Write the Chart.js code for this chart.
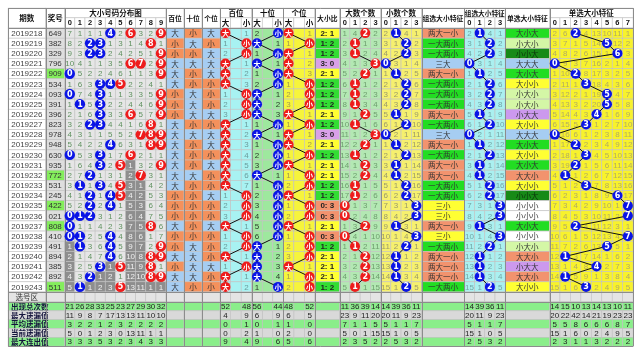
<!DOCTYPE html>
<html>
<head>
<meta charset="utf-8">
<script src="https://cdn.jsdelivr.net/npm/chart.js@4.4.0/dist/chart.umd.min.js"></script>
<style>html,body{margin:0;padding:0;background:#fff}</style>
</head>
<body>
<canvas id="c" width="640" height="364"></canvas>
<script>
// periods and drawn numbers
var periods = ['2019218','2019219','2019220','2019221','2019222','2019223','2019224','2019225','2019226','2019227','2019228','2019229','2019230','2019231','2019232','2019233','2019234','2019235','2019236','2019237','2019238','2019239','2019240','2019241','2019242','2019243'];
var draws = ['649','382','329','796','909','534','093','391','396','823','978','948','630','935','772','531','245','422','021','808','410','491','894','385','892','511'];
var pairDraws = ['2019222','2019232','2019235','2019237','2019243'];

// omission table of digits 0-9 (0 = drawn)
var distMiss = [
 [7,1,1,1,0,2,0,3,2,0],[8,2,0,0,1,3,1,4,0,1],[9,3,0,0,2,4,2,5,1,0],[10,4,1,1,3,5,0,0,2,0],
 [0,5,2,2,4,6,1,1,3,0],[1,6,3,0,0,0,2,2,4,1],[0,7,4,0,1,1,3,3,5,0],[1,0,5,0,2,2,4,4,6,0],
 [2,1,6,0,3,3,0,5,7,0],[3,2,0,0,4,4,1,6,0,1],[4,3,1,1,5,5,2,0,0,0],[5,4,2,2,0,6,3,1,0,0],
 [0,5,3,0,1,7,0,2,1,1],[1,6,4,0,2,0,1,3,2,0],[2,7,0,1,3,1,2,0,3,1],[3,0,1,0,4,0,3,1,4,2],
 [4,1,0,1,0,0,4,2,5,3],[5,2,0,2,0,1,5,3,6,4],[0,0,0,3,1,2,6,4,7,5],[0,1,1,4,2,3,7,5,0,6],
 [0,0,2,5,0,4,8,6,1,7],[1,0,3,6,0,5,9,7,2,0],[2,1,4,7,0,6,10,8,0,0],[3,2,5,0,1,0,11,9,0,1],
 [4,3,0,1,2,1,12,10,0,0],[5,0,1,2,3,0,13,11,1,1]
];
// first row of the current (grey) omission run per digit
var distTailFrom = [21,26,25,24,23,26,13,15,25,25];

// size of hundreds / tens / units
var baiSize = '大小小大大大小小小大大大大大大大小小小大小小大小大大';
var shiSize = '小大小大小小大大大小大小小小大小小小小小小大大大大小';
var geSize  = '大小大大大小小小大小大大小大小小大小小大小小小大小小';
// omission of the column that was not hit
var baiMiss = [1,1,2,1,2,3,1,2,3,1,2,3,4,5,6,7,1,2,3,1,1,2,1,1,1,2];
var shiMiss = [2,1,1,1,1,2,1,2,3,1,1,1,2,3,1,1,2,3,4,5,6,1,2,3,4,1];
var geMiss  = [1,1,1,2,3,1,2,3,1,1,1,2,1,1,1,2,1,1,2,1,1,2,3,1,1,2];

// big digit count 0-3
var bigCount = [2,1,1,3,2,1,1,1,2,1,3,2,1,2,2,1,1,0,0,2,0,1,2,2,2,1];
var bigMiss = [
 [1,4,0,2],[2,0,1,3],[3,0,2,4],[4,1,3,0],[5,2,0,1],[6,0,1,2],[7,0,2,3],[8,0,3,4],[9,1,0,5],
 [10,0,1,6],[11,1,2,0],[12,2,0,1],[13,0,1,2],[14,1,0,3],[15,2,0,4],[16,0,1,5],[17,0,2,6],
 [0,1,3,7],[0,2,4,8],[1,3,0,9],[0,4,1,10],[1,0,2,11],[2,1,0,12],[3,2,0,13],[4,3,0,14],[5,0,1,15]
];
// small digit count 0-3 (also the group feature index)
var smallCount = [1,2,2,0,1,2,2,2,1,2,0,1,2,1,1,2,2,3,3,1,3,2,1,1,1,2];
var smallMiss = [
 [2,0,4,1],[3,1,0,2],[4,2,0,3],[0,3,1,4],[1,0,2,5],[2,1,0,6],[3,2,0,7],[4,3,0,8],[5,0,1,9],
 [6,1,0,10],[0,2,1,11],[1,0,2,12],[2,1,0,13],[3,0,1,14],[4,0,2,15],[5,1,0,16],[6,2,0,17],
 [7,3,1,0],[8,4,2,0],[9,0,3,1],[10,1,4,0],[11,2,0,1],[12,0,1,2],[13,0,2,3],[14,0,3,4],[15,1,0,5]
];
var ratioNames = ['0: 3','1: 2','2: 1','3: 0'];
var groupNames = ['三大','两大一小','一大两小','三小'];

// single feature 0-7
var singleNames = ['大大大','大大小','大小大','大小小','小大大','小大小','小小大','小小小'];
var singleIdx = [2,5,6,0,2,3,5,5,4,3,0,2,3,2,1,3,6,7,7,2,7,5,1,4,1,3];
var singleMiss = [
 [2,6,0,4,13,10,11,1],[3,7,1,5,14,0,12,2],[4,8,2,6,15,1,0,3],[0,9,3,7,16,2,1,4],
 [1,10,0,8,17,3,2,5],[2,11,1,0,18,4,3,6],[3,12,2,1,19,0,4,7],[4,13,3,2,20,0,5,8],
 [5,14,4,3,0,1,6,9],[6,15,5,0,1,2,7,10],[0,16,6,1,2,3,8,11],[1,17,0,2,3,4,9,12],
 [2,18,1,0,4,5,10,13],[3,19,0,1,5,6,11,14],[4,0,1,2,6,7,12,15],[5,1,2,0,7,8,13,16],
 [6,2,3,1,8,9,0,17],[7,3,4,2,9,10,1,0],[8,4,5,3,10,11,2,0],[9,5,0,4,11,12,3,1],
 [10,6,1,5,12,13,4,0],[11,7,2,6,13,0,5,1],[12,0,3,7,14,1,6,2],[13,1,4,8,0,2,7,3],
 [14,0,5,9,1,3,8,4],[15,1,6,0,2,4,9,5]
];

// bottom statistics
var statNames = ['出现总次数','最大遗漏值','平均遗漏值','当前遗漏值','最大连出值'];
var distStats = [[21,26,28,33,25,23,27,29,30,32],[11,9,8,7,17,13,13,11,10,10],[3,2,2,1,2,3,2,2,2,2],[5,0,1,2,3,0,13,11,1,1],[3,3,3,5,3,2,3,4,3,3]];
var trendStats = [[52,48,56,44,48,52],[4,9,6,9,6,5],[0,1,0,1,1,0],[0,2,1,0,2,0],[9,4,9,6,5,6]];
var bigStats = [[11,36,39,14],[23,9,11,20],[7,1,1,5],[5,0,1,15],[2,3,5,2]];
var smallStats = [[14,39,36,11],[20,11,9,23],[5,1,1,7],[15,1,0,5],[2,5,3,2]];
var singleStats = [[14,15,10,13,14,13,10,11],[20,22,42,14,21,19,23,23],[5,5,8,6,6,6,8,7],[15,1,6,0,2,4,9,5],[2,3,1,1,3,2,2,2]];

// layout (px units of the scales)
var L = {qs:[3,41], jh:[41,60.5], distX:60.5, distW:10.3, posX:163.5, posW:18.33,
  trendX:218.5, trendW:32.1, ratio:[314.8,340], bigX:340, cntW:10.4, smallX:381.6,
  grpLab:[423.2,466.7], grpX:466.7, sglLab:[508.3,553.3], sglX:553.3, sglW:10.625, right:638.3,
  top:3, h1:13, h2:23.5, rowH:10.45, selTop:295.2, selBot:304.8, statTop:305.5, statH:9.1};
var CJK = '"Noto Sans CJK SC"';
var BLUE = '#0a14e6', RED = '#ee1c1c';
var ratioColors = ['#f2936e','#33dd33','#ffff33','#d9a0e8'];
var groupColors = ['#a6cdf2','#f2936e','#22dd22','#ffff33'];
var singleColors = ['#a6cdf2','#f2936e','#22dd22','#ffff33','#cc99ee','#d4f7a6','#178a17','#ffffff'];

function rowY(i) { return L.h2 + (i + 0.5) * L.rowH; }
function rowTop(i) { return L.h2 + i * L.rowH; }
function distC(d) { return L.distX + (d + 0.5) * L.distW; }
function trendC(p, big) { return L.trendX + p * L.trendW + (big ? 0.5 : 2.5) * L.trendW / 3; }

// table cells, texts and grid
var tablePlugin = {
  id: 'table',
  beforeDatasetsDraw: function(chart) {
    var ctx = chart.ctx, xs = chart.scales.x, ys = chart.scales.y;
    function cell(x0, y0, x1, y1, fill, txt, color, font) {
      var a = xs.getPixelForValue(x0), b = ys.getPixelForValue(y0);
      var c = xs.getPixelForValue(x1), d = ys.getPixelForValue(y1);
      ctx.fillStyle = fill;
      ctx.fillRect(a, b, c - a, d - b);
      ctx.strokeStyle = '#c2c2c2';
      ctx.lineWidth = 0.6;
      ctx.strokeRect(a, b, c - a, d - b);
      if (txt !== undefined && txt !== '') {
        ctx.fillStyle = color || '#222';
        ctx.font = font || '8px "Liberation Sans"';
        ctx.textAlign = 'center';
        ctx.textBaseline = 'middle';
        ctx.fillText(txt, (a + c) / 2, (b + d) / 2 + 0.5, c - a - 1);
      }
    }
    var hf = 'bold 7.5px ' + CJK, hs = 'bold 6.8px ' + CJK, hd = 'bold 7.5px "Liberation Sans"';
    var i, d, p, k, y0, y1;

    // header
    cell(L.qs[0], L.top, L.qs[1], L.h2, '#fff', '期数', '#111', hf);
    cell(L.jh[0], L.top, L.jh[1], L.h2, '#fff', '奖号', '#111', hf);
    cell(L.distX, L.top, L.distX + 10 * L.distW, L.h1, '#fff', '大小号码分布图', '#111', hf);
    for (d = 0; d < 10; d++) cell(L.distX + d * L.distW, L.h1, L.distX + (d + 1) * L.distW, L.h2, '#fff', String(d), '#111', hd);
    ['百位','十位','个位'].forEach(function(t, p) {
      cell(L.posX + p * L.posW, L.top, L.posX + (p + 1) * L.posW, L.h2, '#fff', t, '#111', hs);
      var x = L.trendX + p * L.trendW, s = L.trendW / 3;
      cell(x, L.top, x + L.trendW, L.h1, '#fff', t, '#111', hf);
      cell(x, L.h1, x + s, L.h2, '#fff', '大', '#111', hf);
      cell(x + s, L.h1, x + 2 * s, L.h2, '#fff', '');
      cell(x + 2 * s, L.h1, x + 3 * s, L.h2, '#fff', '小', '#111', hf);
    });
    cell(L.ratio[0], L.top, L.ratio[1], L.h2, '#fff', '大小比', '#111', hs);
    cell(L.bigX, L.top, L.bigX + 4 * L.cntW, L.h1, '#fff', '大数个数', '#111', hf);
    cell(L.smallX, L.top, L.smallX + 4 * L.cntW, L.h1, '#fff', '小数个数', '#111', hf);
    cell(L.grpLab[0], L.top, L.grpLab[1], L.h2, '#fff', '组选大小特征', '#111', hs);
    cell(L.grpX, L.top, L.grpX + 4 * L.cntW, L.h1, '#fff', '组选大小特征', '#111', hs);
    for (k = 0; k < 4; k++) {
      cell(L.bigX + k * L.cntW, L.h1, L.bigX + (k + 1) * L.cntW, L.h2, '#fff', String(k), '#111', hd);
      cell(L.smallX + k * L.cntW, L.h1, L.smallX + (k + 1) * L.cntW, L.h2, '#fff', String(k), '#111', hd);
      cell(L.grpX + k * L.cntW, L.h1, L.grpX + (k + 1) * L.cntW, L.h2, '#fff', String(k), '#111', hd);
    }
    cell(L.sglLab[0], L.top, L.sglLab[1], L.h2, '#fff', '单选大小特征', '#111', hs);
    cell(L.sglX, L.top, L.sglX + 8 * L.sglW, L.h1, '#fff', '单选大小特征', '#111', hf);
    for (k = 0; k < 8; k++) cell(L.sglX + k * L.sglW, L.h1, L.sglX + (k + 1) * L.sglW, L.h2, '#fff', String(k), '#111', hd);

    // data rows
    var nf = '8px "Liberation Sans"', cf = '7.5px ' + CJK;
    var sizes = [baiSize, shiSize, geSize], misses = [baiMiss, shiMiss, geMiss];
    var trendBg = ['#a8f2f2', '#9ee89e', '#f6f43c'], trendTx = ['#6b9c9c', '#2a3a2a', '#a09a50'];
    for (i = 0; i < periods.length; i++) {
      y0 = rowTop(i); y1 = y0 + L.rowH;
      cell(L.qs[0], y0, L.qs[1], y1, '#fff', periods[i], '#444', nf);
      cell(L.jh[0], y0, L.jh[1], y1, pairDraws.indexOf(periods[i]) >= 0 ? '#84ee5c' : '#dedede', draws[i], '#333', nf);
      for (d = 0; d < 10; d++) {
        var tail = i >= distTailFrom[d];
        var m = distMiss[i][d];
        cell(L.distX + d * L.distW, y0, L.distX + (d + 1) * L.distW, y1, tail ? '#8e8e8e' : '#e6e6e6',
          m ? String(m) : '', tail ? '#f0f0f0' : '#5f915f', nf);
      }
      for (p = 0; p < 3; p++) {
        var big = sizes[p][i] === '大';
        cell(L.posX + p * L.posW, y0, L.posX + (p + 1) * L.posW, y1, big ? '#a6cdf2' : '#f4915c', sizes[p][i], '#333', cf);
        var x = L.trendX + p * L.trendW, s = L.trendW / 3;
        cell(x, y0, x + s, y1, trendBg[p], big ? '' : String(misses[p][i]), trendTx[p], nf);
        cell(x + s, y0, x + 2 * s, y1, trendBg[p], '');
        cell(x + 2 * s, y0, x + 3 * s, y1, trendBg[p], big ? String(misses[p][i]) : '', trendTx[p], nf);
      }
      cell(L.ratio[0], y0, L.ratio[1], y1, ratioColors[bigCount[i]], ratioNames[bigCount[i]], '#222', 'bold 8px "Liberation Sans"');
      for (k = 0; k < 4; k++) {
        var bm = bigMiss[i][k], sm = smallMiss[i][k];
        cell(L.bigX + k * L.cntW, y0, L.bigX + (k + 1) * L.cntW, y1, '#b3e8b3', bm ? String(bm) : '', '#6e9e6e', nf);
        cell(L.smallX + k * L.cntW, y0, L.smallX + (k + 1) * L.cntW, y1, '#f6f06e', sm ? String(sm) : '', '#9a9a6a', nf);
        cell(L.grpX + k * L.cntW, y0, L.grpX + (k + 1) * L.cntW, y1, '#aaf0f0', sm ? String(sm) : '', '#74a6a6', nf);
      }
      cell(L.grpLab[0], y0, L.grpLab[1], y1, groupColors[smallCount[i]], groupNames[smallCount[i]], '#333', cf);
      cell(L.sglLab[0], y0, L.sglLab[1], y1, singleColors[singleIdx[i]], singleNames[singleIdx[i]], singleIdx[i] === 6 ? '#0b300b' : '#333', cf);
      for (k = 0; k < 8; k++) {
        var gm = singleMiss[i][k];
        cell(L.sglX + k * L.sglW, y0, L.sglX + (k + 1) * L.sglW, y1, '#f8f22c', gm ? String(gm) : '', '#b2ac62', nf);
      }
    }

    // selection row
    y0 = L.selTop; y1 = L.selBot;
    cell(L.qs[0], y0, L.qs[1], y1, '#e4e4e4', '选号区', '#333', cf);
    cell(L.jh[0], y0, L.jh[1], y1, '#e4e4e4', '');
    var cols = [];
    for (d = 0; d < 10; d++) cols.push([L.distX + d * L.distW, L.distW]);
    for (p = 0; p < 3; p++) cols.push([L.posX + p * L.posW, L.posW]);
    for (p = 0; p < 9; p++) cols.push([L.trendX + p * L.trendW / 3, L.trendW / 3]);
    cols.push([L.ratio[0], L.ratio[1] - L.ratio[0]]);
    for (k = 0; k < 8; k++) cols.push([L.bigX + k * L.cntW, L.cntW]);
    cols.push([L.grpLab[0], L.grpLab[1] - L.grpLab[0]]);
    for (k = 0; k < 4; k++) cols.push([L.grpX + k * L.cntW, L.cntW]);
    cols.push([L.sglLab[0], L.sglLab[1] - L.sglLab[0]]);
    for (k = 0; k < 8; k++) cols.push([L.sglX + k * L.sglW, L.sglW]);
    cols.forEach(function(c) { cell(c[0], y0, c[0] + c[1], y1, '#e4e4e4', ''); });

    // statistics rows
    for (var r = 0; r < 5; r++) {
      y0 = L.statTop + r * L.statH; y1 = y0 + L.statH;
      var bg = r % 2 === 0 ? '#8aee8a' : '#d9d9d9';
      cols.forEach(function(c) { cell(c[0], y0, c[0] + c[1], y1, bg, ''); });
      cell(L.qs[0], y0, L.jh[1], y1, bg, '', '#14143c');
      ctx.fillStyle = '#14143c';
      ctx.font = 'bold 7.5px ' + CJK;
      ctx.textAlign = 'left';
      ctx.textBaseline = 'middle';
      ctx.fillText(statNames[r], xs.getPixelForValue(L.qs[0] + 3), ys.getPixelForValue((y0 + y1) / 2) + 0.5);
      for (d = 0; d < 10; d++) cell(L.distX + d * L.distW, y0, L.distX + (d + 1) * L.distW, y1, bg, String(distStats[r][d]), '#222', nf);
      for (p = 0; p < 3; p++) {
        var x = L.trendX + p * L.trendW, s = L.trendW / 3;
        cell(x, y0, x + s, y1, bg, String(trendStats[r][p * 2]), '#222', nf);
        cell(x + 2 * s, y0, x + 3 * s, y1, bg, String(trendStats[r][p * 2 + 1]), '#222', nf);
      }
      for (k = 0; k < 4; k++) {
        cell(L.bigX + k * L.cntW, y0, L.bigX + (k + 1) * L.cntW, y1, bg, String(bigStats[r][k]), '#222', nf);
        cell(L.smallX + k * L.cntW, y0, L.smallX + (k + 1) * L.cntW, y1, bg, String(smallStats[r][k]), '#222', nf);
        cell(L.grpX + k * L.cntW, y0, L.grpX + (k + 1) * L.cntW, y1, bg, String(smallStats[r][k]), '#222', nf);
      }
      for (k = 0; k < 8; k++) cell(L.sglX + k * L.sglW, y0, L.sglX + (k + 1) * L.sglW, y1, bg, String(singleStats[r][k]), '#222', nf);
    }

    // section borders
    var edges = [L.qs[0], L.jh[0], L.distX, L.posX, L.posX + L.posW, L.posX + 2 * L.posW, L.trendX,
      L.trendX + L.trendW, L.trendX + 2 * L.trendW, L.ratio[0], L.bigX, L.smallX, L.grpLab[0], L.grpX, L.sglLab[0], L.sglX, L.right];
    ctx.strokeStyle = '#8c8c8c';
    ctx.lineWidth = 1;
    ctx.beginPath();
    edges.forEach(function(e) {
      var px = Math.round(xs.getPixelForValue(e)) + 0.5;
      ctx.moveTo(px, ys.getPixelForValue(L.top));
      ctx.lineTo(px, ys.getPixelForValue(L.statTop + 5 * L.statH));
    });
    [L.top, L.h2, L.selTop, L.statTop, L.statTop + 5 * L.statH].forEach(function(e) {
      var py = Math.round(ys.getPixelForValue(e)) + 0.5;
      ctx.moveTo(xs.getPixelForValue(L.qs[0]), py);
      ctx.lineTo(xs.getPixelForValue(L.right), py);
    });
    ctx.stroke();
  },
  afterDatasetsDraw: function(chart) {
    var ctx = chart.ctx;
    chart.data.datasets.forEach(function(ds, k) {
      var meta = chart.getDatasetMeta(k);
      ctx.fillStyle = '#fff';
      ctx.textAlign = 'center';
      ctx.textBaseline = 'middle';
      ctx.font = ds.cjk ? 'bold 7px ' + CJK : 'bold 8px "DejaVu Sans"';
      meta.data.forEach(function(pt, j) {
        ctx.fillText(ds.labels[j], pt.x, pt.y + 0.5);
      });
    });
  }
};

// datasets
var distPts = [], distCols = [], distLabels = [];
distMiss.forEach(function(row, i) {
  row.forEach(function(m, d) {
    if (m === 0) {
      distPts.push({x: distC(d), y: rowY(i)});
      distCols.push(d < 5 ? BLUE : RED);
      distLabels.push(String(d));
    }
  });
});

function trendSet(str, p, color) {
  var pts = [], labels = [];
  for (var i = 0; i < str.length; i++) {
    pts.push({x: trendC(p, str[i] === '大'), y: rowY(i)});
    labels.push(str[i]);
  }
  return {data: pts, labels: labels, cjk: true, showLine: true, borderColor: '#111', borderWidth: 1,
    pointRadius: 5, pointBackgroundColor: color, pointBorderColor: color, pointBorderWidth: 0};
}
function countSet(vals, x0, w, color) {
  return {data: vals.map(function(v, i) { return {x: x0 + (v + 0.5) * w, y: rowY(i)}; }),
    labels: vals.map(String), showLine: true, borderColor: '#111', borderWidth: 1,
    pointRadius: 5, pointBackgroundColor: color, pointBorderColor: color, pointBorderWidth: 0};
}

var datasets = [
  {data: distPts, labels: distLabels, showLine: false, pointRadius: 5.2,
   pointBackgroundColor: distCols, pointBorderColor: distCols, pointBorderWidth: 0},
  trendSet(baiSize, 0, RED),
  trendSet(shiSize, 1, BLUE),
  trendSet(geSize, 2, RED),
  countSet(bigCount, L.bigX, L.cntW, RED),
  countSet(smallCount, L.smallX, L.cntW, BLUE),
  countSet(smallCount, L.grpX, L.cntW, BLUE),
  countSet(singleIdx, L.sglX, L.sglW, BLUE)
];

var chart = new Chart(document.getElementById('c').getContext('2d'), {
  type: 'scatter',
  data: {datasets: datasets},
  options: {
    responsive: false,
    animation: false,
    events: [],
    layout: {padding: 0},
    plugins: {legend: {display: false}, tooltip: {enabled: false}},
    scales: {
      x: {type: 'linear', display: false, min: 0, max: 640},
      y: {type: 'linear', display: false, min: 0, max: 364, reverse: true}
    }
  },
  plugins: [tablePlugin]
});
</script>
</body>
</html>
